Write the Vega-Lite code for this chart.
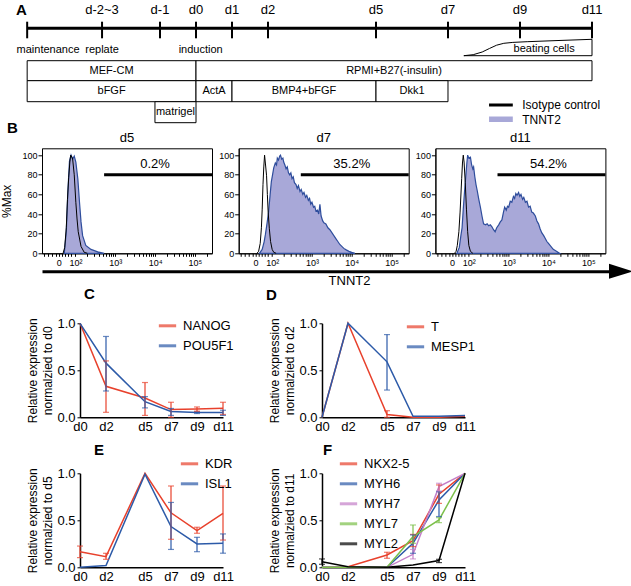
{
  "$schema": "https://vega.github.io/schema/vega-lite/v6.json",
  "padding": 0,
  "background": "white",
  "bounds": "flush",
  "spacing": 23.3,
  "config": {
    "font": "Liberation Sans",
    "view": {"stroke": null},
    "axis": {"grid": false, "domainColor": "#000", "tickColor": "#000", "labelColor": "#000", "titleColor": "#000", "titleFontWeight": "normal", "labelFont": "Liberation Sans", "titleFont": "Liberation Sans", "labelOverlap": false},
    "legend": {"labelFont": "Liberation Sans", "labelColor": "#000"},
    "title": {"color": "#000", "font": "Liberation Sans"},
    "text": {"font": "Liberation Sans", "color": "#000"}
  },
  "datasets": {
    "a_ticks": [
      {"day": -4.69, "label": ""}, {"day": -2.61, "label": "d-2~3"}, {"day": -1, "label": "d-1"},
      {"day": 0, "label": "d0"}, {"day": 1, "label": "d1"}, {"day": 2, "label": "d2"},
      {"day": 5, "label": "d5"}, {"day": 7, "label": "d7"}, {"day": 9, "label": "d9"}, {"day": 11, "label": "d11"}
    ],
    "a_boxes": [
      {"start": -4.69, "end": 0, "top": 6.07, "bottom": 8.07},
      {"start": 0, "end": 11, "top": 6.07, "bottom": 8.07},
      {"start": -4.69, "end": 0, "top": 8.07, "bottom": 10.17},
      {"start": 0, "end": 1, "top": 8.07, "bottom": 10.17},
      {"start": 1, "end": 5, "top": 8.07, "bottom": 10.17},
      {"start": 5, "end": 7, "top": 8.07, "bottom": 10.17},
      {"start": -1.14, "end": 0, "top": 10.17, "bottom": 12.27}
    ],
    "a_text": [
      {"day": -4.11, "lane": 5.0, "label": "maintenance"},
      {"day": -2.61, "lane": 5.0, "label": "replate"},
      {"day": 0.13, "lane": 5.0, "label": "induction"},
      {"day": 9.67, "lane": 4.93, "label": "beating cells"},
      {"day": -2.345, "lane": 7.07, "label": "MEF-CM"},
      {"day": 5.5, "lane": 7.07, "label": "RPMI+B27(-insulin)"},
      {"day": -2.345, "lane": 9.12, "label": "bFGF"},
      {"day": 0.5, "lane": 9.12, "label": "ActA"},
      {"day": 3.0, "lane": 9.12, "label": "BMP4+bFGF"},
      {"day": 6.0, "lane": 9.12, "label": "Dkk1"},
      {"day": -0.57, "lane": 11.22, "label": "matrigel"}
    ],
    "a_beat": [
      {"i": 0, "day": 7.44, "lane": 5.57}, {"i": 1, "day": 7.7, "lane": 5.47}, {"i": 2, "day": 7.95, "lane": 5.2},
      {"i": 3, "day": 8.15, "lane": 4.85}, {"i": 4, "day": 8.35, "lane": 4.52}, {"i": 5, "day": 8.55, "lane": 4.33},
      {"i": 6, "day": 8.8, "lane": 4.24}, {"i": 7, "day": 9.2, "lane": 4.17}, {"i": 8, "day": 10, "lane": 4.06},
      {"i": 9, "day": 11, "lane": 3.93}, {"i": 10, "day": 11, "lane": 5.57}, {"i": 11, "day": 7.44, "lane": 5.57}
    ],
    "h5_t": [
      {"u": 1.72, "v": 0}, {"u": 1.77, "v": 22}, {"u": 1.81, "v": 63}, {"u": 1.85, "v": 94}, {"u": 1.89, "v": 100},
      {"u": 1.93, "v": 96}, {"u": 1.97, "v": 99}, {"u": 2.01, "v": 93}, {"u": 2.06, "v": 76}, {"u": 2.1, "v": 53},
      {"u": 2.14, "v": 32}, {"u": 2.18, "v": 18}, {"u": 2.26, "v": 8}, {"u": 2.39, "v": 4}, {"u": 2.56, "v": 1.5}, {"u": 2.72, "v": 0}
    ],
    "h5_i": [
      {"u": 1.69, "v": 0}, {"u": 1.73, "v": 6}, {"u": 1.77, "v": 26}, {"u": 1.8, "v": 55}, {"u": 1.83, "v": 77},
      {"u": 1.86, "v": 93}, {"u": 1.88, "v": 100}, {"u": 1.91, "v": 98}, {"u": 1.93, "v": 96}, {"u": 1.97, "v": 80},
      {"u": 2.01, "v": 52}, {"u": 2.04, "v": 35}, {"u": 2.07, "v": 22}, {"u": 2.14, "v": 7}, {"u": 2.22, "v": 1}, {"u": 2.3, "v": 0}
    ],
    "h7_t": [
      {"u": 1.68, "v": 0}, {"u": 1.75, "v": 4}, {"u": 1.8, "v": 12}, {"u": 1.83, "v": 19}, {"u": 1.87, "v": 30},
      {"u": 1.91, "v": 42}, {"u": 1.95, "v": 60}, {"u": 1.98, "v": 73}, {"u": 2.01, "v": 80}, {"u": 2.04, "v": 87},
      {"u": 2.08, "v": 92}, {"u": 2.11, "v": 90}, {"u": 2.13, "v": 97}, {"u": 2.16, "v": 95}, {"u": 2.19, "v": 99},
      {"u": 2.21, "v": 100}, {"u": 2.24, "v": 96}, {"u": 2.27, "v": 97}, {"u": 2.29, "v": 93}, {"u": 2.32, "v": 90},
      {"u": 2.35, "v": 86}, {"u": 2.38, "v": 88}, {"u": 2.41, "v": 82}, {"u": 2.44, "v": 80}, {"u": 2.47, "v": 82},
      {"u": 2.5, "v": 76}, {"u": 2.53, "v": 78}, {"u": 2.56, "v": 72}, {"u": 2.6, "v": 70}, {"u": 2.63, "v": 66},
      {"u": 2.66, "v": 69}, {"u": 2.7, "v": 63}, {"u": 2.73, "v": 65}, {"u": 2.77, "v": 60}, {"u": 2.8, "v": 62},
      {"u": 2.84, "v": 57}, {"u": 2.87, "v": 59}, {"u": 2.91, "v": 54}, {"u": 2.94, "v": 56}, {"u": 2.97, "v": 50},
      {"u": 3.0, "v": 52}, {"u": 3.04, "v": 47}, {"u": 3.07, "v": 48}, {"u": 3.1, "v": 43}, {"u": 3.14, "v": 44},
      {"u": 3.17, "v": 40}, {"u": 3.2, "v": 50}, {"u": 3.23, "v": 38}, {"u": 3.27, "v": 33}, {"u": 3.3, "v": 31},
      {"u": 3.35, "v": 30}, {"u": 3.4, "v": 26}, {"u": 3.45, "v": 24}, {"u": 3.5, "v": 21}, {"u": 3.55, "v": 18},
      {"u": 3.6, "v": 15}, {"u": 3.65, "v": 12}, {"u": 3.7, "v": 9}, {"u": 3.75, "v": 7}, {"u": 3.8, "v": 5},
      {"u": 3.86, "v": 3.5}, {"u": 3.93, "v": 2}, {"u": 4.0, "v": 1}, {"u": 4.08, "v": 0}
    ],
    "h7_i": [
      {"u": 1.62, "v": 0}, {"u": 1.66, "v": 2}, {"u": 1.7, "v": 10}, {"u": 1.73, "v": 26}, {"u": 1.75, "v": 45},
      {"u": 1.77, "v": 70}, {"u": 1.79, "v": 88}, {"u": 1.81, "v": 100}, {"u": 1.83, "v": 92}, {"u": 1.86, "v": 79},
      {"u": 1.88, "v": 60}, {"u": 1.9, "v": 42}, {"u": 1.93, "v": 25}, {"u": 1.96, "v": 12}, {"u": 2.0, "v": 4},
      {"u": 2.04, "v": 1}, {"u": 2.1, "v": 0}
    ],
    "h11_t": [
      {"u": 1.7, "v": 0}, {"u": 1.76, "v": 6}, {"u": 1.8, "v": 18}, {"u": 1.83, "v": 26}, {"u": 1.86, "v": 45},
      {"u": 1.89, "v": 62}, {"u": 1.92, "v": 77}, {"u": 1.95, "v": 92}, {"u": 1.97, "v": 100}, {"u": 2.0, "v": 97},
      {"u": 2.04, "v": 98}, {"u": 2.07, "v": 90}, {"u": 2.1, "v": 86}, {"u": 2.12, "v": 88}, {"u": 2.15, "v": 78},
      {"u": 2.18, "v": 70}, {"u": 2.21, "v": 64}, {"u": 2.25, "v": 55}, {"u": 2.29, "v": 47}, {"u": 2.33, "v": 38},
      {"u": 2.37, "v": 30}, {"u": 2.42, "v": 29}, {"u": 2.46, "v": 30}, {"u": 2.5, "v": 28}, {"u": 2.54, "v": 29},
      {"u": 2.58, "v": 27}, {"u": 2.62, "v": 24}, {"u": 2.66, "v": 22}, {"u": 2.7, "v": 26}, {"u": 2.75, "v": 29},
      {"u": 2.79, "v": 32}, {"u": 2.83, "v": 34}, {"u": 2.87, "v": 42}, {"u": 2.9, "v": 47}, {"u": 2.94, "v": 44},
      {"u": 2.97, "v": 48}, {"u": 3.0, "v": 47}, {"u": 3.04, "v": 53}, {"u": 3.08, "v": 52}, {"u": 3.12, "v": 58},
      {"u": 3.15, "v": 56}, {"u": 3.18, "v": 61}, {"u": 3.21, "v": 59}, {"u": 3.25, "v": 62}, {"u": 3.28, "v": 58},
      {"u": 3.31, "v": 60}, {"u": 3.35, "v": 55}, {"u": 3.38, "v": 57}, {"u": 3.42, "v": 52}, {"u": 3.46, "v": 53},
      {"u": 3.5, "v": 47}, {"u": 3.54, "v": 48}, {"u": 3.58, "v": 42}, {"u": 3.62, "v": 41}, {"u": 3.67, "v": 38},
      {"u": 3.71, "v": 33}, {"u": 3.75, "v": 30}, {"u": 3.79, "v": 25}, {"u": 3.83, "v": 21}, {"u": 3.88, "v": 18},
      {"u": 3.92, "v": 15}, {"u": 3.96, "v": 12}, {"u": 4.0, "v": 10}, {"u": 4.06, "v": 7}, {"u": 4.12, "v": 4},
      {"u": 4.2, "v": 2}, {"u": 4.28, "v": 0}
    ],
    "h11_i": [
      {"u": 1.64, "v": 0}, {"u": 1.68, "v": 2}, {"u": 1.71, "v": 8}, {"u": 1.75, "v": 22}, {"u": 1.78, "v": 42},
      {"u": 1.82, "v": 76}, {"u": 1.84, "v": 92}, {"u": 1.86, "v": 100}, {"u": 1.88, "v": 93}, {"u": 1.91, "v": 72},
      {"u": 1.94, "v": 45}, {"u": 1.97, "v": 22}, {"u": 2.0, "v": 8}, {"u": 2.04, "v": 2}, {"u": 2.1, "v": 0}
    ],
    "c_lines": [
      {"gene": "NANOG", "day": 0, "value": 1.0}, {"gene": "NANOG", "day": 2, "value": 0.33}, {"gene": "NANOG", "day": 5, "value": 0.205},
      {"gene": "NANOG", "day": 7, "value": 0.082}, {"gene": "NANOG", "day": 9, "value": 0.088}, {"gene": "NANOG", "day": 11, "value": 0.095},
      {"gene": "POU5F1", "day": 0, "value": 1.0}, {"gene": "POU5F1", "day": 2, "value": 0.576}, {"gene": "POU5F1", "day": 5, "value": 0.166},
      {"gene": "POU5F1", "day": 7, "value": 0.062}, {"gene": "POU5F1", "day": 9, "value": 0.052}, {"gene": "POU5F1", "day": 11, "value": 0.052}
    ],
    "c_err": [
      {"gene": "NANOG", "day": 2, "lo": 0.053, "hi": 0.6}, {"gene": "NANOG", "day": 5, "lo": 0.02, "hi": 0.37},
      {"gene": "NANOG", "day": 7, "lo": 0.0, "hi": 0.16}, {"gene": "NANOG", "day": 9, "lo": 0.065, "hi": 0.11},
      {"gene": "NANOG", "day": 11, "lo": 0.03, "hi": 0.16},
      {"gene": "POU5F1", "day": 2, "lo": 0.28, "hi": 0.86}, {"gene": "POU5F1", "day": 5, "lo": 0.1, "hi": 0.22},
      {"gene": "POU5F1", "day": 7, "lo": 0.02, "hi": 0.094}, {"gene": "POU5F1", "day": 9, "lo": 0.04, "hi": 0.06},
      {"gene": "POU5F1", "day": 11, "lo": 0.02, "hi": 0.075}
    ],
    "d_lines": [
      {"gene": "T", "day": 0, "value": 0}, {"gene": "T", "day": 2, "value": 1}, {"gene": "T", "day": 5, "value": 0.03},
      {"gene": "T", "day": 7, "value": 0.0}, {"gene": "T", "day": 9, "value": 0.0}, {"gene": "T", "day": 11, "value": 0.01},
      {"gene": "MESP1", "day": 0, "value": 0}, {"gene": "MESP1", "day": 2, "value": 1}, {"gene": "MESP1", "day": 5, "value": 0.59},
      {"gene": "MESP1", "day": 7, "value": 0.01}, {"gene": "MESP1", "day": 9, "value": 0.01}, {"gene": "MESP1", "day": 11, "value": 0.02}
    ],
    "d_err": [
      {"gene": "T", "day": 5, "lo": 0.0, "hi": 0.07},
      {"gene": "MESP1", "day": 5, "lo": 0.29, "hi": 0.88}
    ],
    "e_lines": [
      {"gene": "KDR", "day": 0, "value": 0.166}, {"gene": "KDR", "day": 2, "value": 0.113}, {"gene": "KDR", "day": 5, "value": 1.0},
      {"gene": "KDR", "day": 7, "value": 0.58}, {"gene": "KDR", "day": 9, "value": 0.39}, {"gene": "KDR", "day": 11, "value": 0.574},
      {"gene": "ISL1", "day": 0, "value": 0.0}, {"gene": "ISL1", "day": 2, "value": 0.018}, {"gene": "ISL1", "day": 5, "value": 0.99},
      {"gene": "ISL1", "day": 7, "value": 0.433}, {"gene": "ISL1", "day": 9, "value": 0.248}, {"gene": "ISL1", "day": 11, "value": 0.255}
    ],
    "e_err": [
      {"gene": "KDR", "day": 0, "lo": 0.103, "hi": 0.226}, {"gene": "KDR", "day": 2, "lo": 0.085, "hi": 0.149},
      {"gene": "KDR", "day": 7, "lo": 0.298, "hi": 0.865}, {"gene": "KDR", "day": 9, "lo": 0.362, "hi": 0.426},
      {"gene": "KDR", "day": 11, "lo": 0.29, "hi": 0.865},
      {"gene": "ISL1", "day": 7, "lo": 0.19, "hi": 0.69}, {"gene": "ISL1", "day": 9, "lo": 0.166, "hi": 0.319},
      {"gene": "ISL1", "day": 11, "lo": 0.15, "hi": 0.355}
    ],
    "f_lines": [
      {"gene": "NKX2-5", "day": 0, "value": 0}, {"gene": "NKX2-5", "day": 2, "value": 0.007}, {"gene": "NKX2-5", "day": 5, "value": 0.131},
      {"gene": "NKX2-5", "day": 7, "value": 0.284}, {"gene": "NKX2-5", "day": 9, "value": 0.777}, {"gene": "NKX2-5", "day": 11, "value": 1},
      {"gene": "MYH6", "day": 0, "value": 0}, {"gene": "MYH6", "day": 2, "value": 0}, {"gene": "MYH6", "day": 5, "value": 0},
      {"gene": "MYH6", "day": 7, "value": 0.255}, {"gene": "MYH6", "day": 9, "value": 0.716}, {"gene": "MYH6", "day": 11, "value": 1},
      {"gene": "MYH7", "day": 0, "value": 0}, {"gene": "MYH7", "day": 2, "value": 0}, {"gene": "MYH7", "day": 5, "value": 0},
      {"gene": "MYH7", "day": 7, "value": 0.138}, {"gene": "MYH7", "day": 9, "value": 0.858}, {"gene": "MYH7", "day": 11, "value": 1},
      {"gene": "MYL7", "day": 0, "value": 0}, {"gene": "MYL7", "day": 2, "value": 0}, {"gene": "MYL7", "day": 5, "value": 0},
      {"gene": "MYL7", "day": 7, "value": 0.326}, {"gene": "MYL7", "day": 9, "value": 0.504}, {"gene": "MYL7", "day": 11, "value": 1},
      {"gene": "MYL2", "day": 0, "value": 0.06}, {"gene": "MYL2", "day": 2, "value": 0.007}, {"gene": "MYL2", "day": 5, "value": 0},
      {"gene": "MYL2", "day": 7, "value": 0.025}, {"gene": "MYL2", "day": 9, "value": 0.072}, {"gene": "MYL2", "day": 11, "value": 1}
    ],
    "f_err": [
      {"gene": "NKX2-5", "day": 5, "lo": 0.096, "hi": 0.16}, {"gene": "NKX2-5", "day": 7, "lo": 0.22, "hi": 0.35},
      {"gene": "NKX2-5", "day": 9, "lo": 0.68, "hi": 0.876},
      {"gene": "MYH6", "day": 7, "lo": 0.149, "hi": 0.344}, {"gene": "MYH6", "day": 9, "lo": 0.54, "hi": 0.805},
      {"gene": "MYH7", "day": 7, "lo": 0.089, "hi": 0.19}, {"gene": "MYH7", "day": 9, "lo": 0.812, "hi": 0.894},
      {"gene": "MYL7", "day": 7, "lo": 0.255, "hi": 0.45}, {"gene": "MYL7", "day": 9, "lo": 0.475, "hi": 0.528},
      {"gene": "MYL2", "day": 0, "lo": 0.032, "hi": 0.089}, {"gene": "MYL2", "day": 9, "lo": 0.05, "hi": 0.085}
    ]
  },
  "resolve": {"scale": {"color": "independent"}, "legend": {"color": "independent"}},
  "vconcat": [
    {
      "width": 591,
      "height": 125,
      "layer": [
        {
          "data": {"values": [{"start": -4.69, "end": 11}]},
          "mark": {"type": "rule", "strokeWidth": 3, "color": "#000"},
          "encoding": {
            "x": {"field": "start", "type": "quantitative", "scale": {"domain": [-4.2778, 12.1389], "nice": false, "zero": false}, "axis": null},
            "x2": {"field": "end"},
            "y": {"datum": 2.83, "type": "quantitative", "scale": {"domain": [0, 12.5], "reverse": true, "nice": false, "zero": false}, "axis": null}
          }
        },
        {
          "data": {"name": "a_ticks"},
          "mark": {"type": "rule", "strokeWidth": 2, "color": "#000"},
          "encoding": {
            "x": {"field": "day", "type": "quantitative"},
            "y": {"datum": 2.17, "type": "quantitative"},
            "y2": {"datum": 3.83}
          }
        },
        {
          "data": {"name": "a_ticks"},
          "mark": {"type": "text", "fontSize": 13, "baseline": "middle"},
          "encoding": {
            "x": {"field": "day", "type": "quantitative"},
            "y": {"datum": 1.0, "type": "quantitative"},
            "text": {"field": "label"}
          }
        },
        {
          "data": {"name": "a_boxes"},
          "mark": {"type": "rect", "fill": "white", "stroke": "#000", "strokeWidth": 1},
          "encoding": {
            "x": {"field": "start", "type": "quantitative"},
            "x2": {"field": "end"},
            "y": {"field": "top", "type": "quantitative"},
            "y2": {"field": "bottom"}
          }
        },
        {
          "data": {"name": "a_text"},
          "mark": {"type": "text", "fontSize": 11, "baseline": "middle"},
          "encoding": {
            "x": {"field": "day", "type": "quantitative"},
            "y": {"field": "lane", "type": "quantitative"},
            "text": {"field": "label"}
          }
        },
        {
          "data": {"name": "a_beat"},
          "mark": {"type": "line", "color": "#000", "strokeWidth": 1},
          "encoding": {
            "x": {"field": "day", "type": "quantitative"},
            "y": {"field": "lane", "type": "quantitative"},
            "order": {"field": "i", "type": "quantitative"}
          }
        },
        {
          "data": {"values": [{"start": 8.14, "end": 8.8}]},
          "mark": {"type": "rule", "strokeWidth": 3, "color": "#000"},
          "encoding": {
            "x": {"field": "start", "type": "quantitative"},
            "x2": {"field": "end"},
            "y": {"datum": 10.5, "type": "quantitative"}
          }
        },
        {
          "data": {"values": [{"start": 8.14, "end": 8.8}]},
          "mark": {"type": "rect", "fill": "#a8a8d8"},
          "encoding": {
            "x": {"field": "start", "type": "quantitative"},
            "x2": {"field": "end"},
            "y": {"datum": 11.65, "type": "quantitative"},
            "y2": {"datum": 12.2}
          }
        },
        {
          "data": {"values": [{"day": 9.06, "lane": 10.45, "label": "Isotype control"}, {"day": 9.06, "lane": 11.95, "label": "TNNT2"}]},
          "mark": {"type": "text", "fontSize": 12, "align": "left", "baseline": "middle"},
          "encoding": {
            "x": {"field": "day", "type": "quantitative"},
            "y": {"field": "lane", "type": "quantitative"},
            "text": {"field": "label"}
          }
        },
        {
          "data": {"values": [{"day": -4.85, "lane": 1.0, "label": "A"}]},
          "mark": {"type": "text", "fontSize": 15, "fontWeight": "bold", "baseline": "middle"},
          "encoding": {
            "x": {"field": "day", "type": "quantitative"},
            "y": {"field": "lane", "type": "quantitative"},
            "text": {"field": "label"}
          }
        }
      ]
    },
    {
      "bounds": "flush",
      "spacing": 175,
      "resolve": {"scale": {"color": "independent"}, "legend": {"color": "independent"}},
      "vconcat": [
        {
          "bounds": "flush",
          "spacing": 115,
          "vconcat": [
            {
              "bounds": "flush",
              "spacing": 26.7,
              "title": {"text": "B", "anchor": "start", "frame": "group", "dx": -35, "offset": -4.5, "fontSize": 15, "fontWeight": "bold"},
              "hconcat": [
                {
                  "width": 170, "height": 105,
                  "title": {"text": "d5", "fontSize": 13, "fontWeight": "normal", "offset": 3},
                  "view": {"stroke": "#000", "strokeWidth": 1},
                  "encoding": {
                    "x": {"field": "u", "type": "quantitative", "scale": {"domain": [1.16, 5.43], "nice": false, "zero": false},
                      "axis": {"values": [1.2,1.3,1.4,1.5,1.58,1.66,1.74,1.82,1.9,2,2.301,2.477,2.602,2.699,2.778,2.845,2.903,2.954,3,3.301,3.477,3.602,3.699,3.778,3.845,3.903,3.954,4,4.301,4.477,4.602,4.699,4.778,4.845,4.903,4.954,5,5.301],
                        "labelExpr": "datum.value == 1.58 ? '0' : datum.value == 2 ? '10²' : datum.value == 3 ? '10³' : datum.value == 4 ? '10⁴' : datum.value == 5 ? '10⁵' : ''",
                        "title": null, "tickSize": 3, "labelPadding": 2, "labelFontSize": 9, "labelFlush": false, "labelOverlap": false}},
                    "y": {"field": "v", "type": "quantitative", "scale": {"domain": [0, 107], "nice": false},
                      "axis": {"values": [0, 20, 40, 60, 80, 100], "title": "%Max", "titleFontSize": 12, "titlePadding": 8, "labelFontSize": 9, "tickSize": 4, "labelPadding": 1}}
                  },
                  "layer": [
                    {"data": {"name": "h5_t"}, "mark": {"type": "area", "fill": "#a8a8d8", "stroke": "#2e4d9c", "strokeWidth": 1.2, "fillOpacity": 1}},
                    {"data": {"name": "h5_i"}, "mark": {"type": "line", "color": "#000", "strokeWidth": 1}},
                    {"data": {"values": [{"u": 2.72, "u2": 5.43, "v": 80}]}, "mark": {"type": "rule", "strokeWidth": 3, "color": "#000"}, "encoding": {"x2": {"field": "u2"}}},
                    {"data": {"values": [{"u": 4.0, "v": 91, "label": "0.2%"}]}, "mark": {"type": "text", "fontSize": 13, "baseline": "middle"}, "encoding": {"text": {"field": "label"}}}
                  ]
                },
                {
                  "width": 170, "height": 105,
                  "title": {"text": "d7", "fontSize": 13, "fontWeight": "normal", "offset": 3},
                  "view": {"stroke": "#000", "strokeWidth": 1},
                  "encoding": {
                    "x": {"field": "u", "type": "quantitative", "scale": {"domain": [1.16, 5.43], "nice": false, "zero": false},
                      "axis": {"values": [1.2,1.3,1.4,1.5,1.58,1.66,1.74,1.82,1.9,2,2.301,2.477,2.602,2.699,2.778,2.845,2.903,2.954,3,3.301,3.477,3.602,3.699,3.778,3.845,3.903,3.954,4,4.301,4.477,4.602,4.699,4.778,4.845,4.903,4.954,5,5.301],
                        "labelExpr": "datum.value == 1.58 ? '0' : datum.value == 2 ? '10²' : datum.value == 3 ? '10³' : datum.value == 4 ? '10⁴' : datum.value == 5 ? '10⁵' : ''",
                        "title": null, "tickSize": 3, "labelPadding": 2, "labelFontSize": 9, "labelFlush": false, "labelOverlap": false}},
                    "y": {"field": "v", "type": "quantitative", "scale": {"domain": [0, 107], "nice": false},
                      "axis": {"values": [0, 20, 40, 60, 80, 100], "title": null, "labelFontSize": 9, "tickSize": 4, "labelPadding": 1}}
                  },
                  "layer": [
                    {"data": {"name": "h7_t"}, "mark": {"type": "area", "fill": "#a8a8d8", "stroke": "#2e4d9c", "strokeWidth": 1.2, "fillOpacity": 1}},
                    {"data": {"name": "h7_i"}, "mark": {"type": "line", "color": "#000", "strokeWidth": 1}},
                    {"data": {"values": [{"u": 2.72, "u2": 5.43, "v": 80}]}, "mark": {"type": "rule", "strokeWidth": 3, "color": "#000"}, "encoding": {"x2": {"field": "u2"}}},
                    {"data": {"values": [{"u": 4.0, "v": 91, "label": "35.2%"}]}, "mark": {"type": "text", "fontSize": 13, "baseline": "middle"}, "encoding": {"text": {"field": "label"}}}
                  ]
                },
                {
                  "width": 170, "height": 105,
                  "title": {"text": "d11", "fontSize": 13, "fontWeight": "normal", "offset": 3},
                  "view": {"stroke": "#000", "strokeWidth": 1},
                  "encoding": {
                    "x": {"field": "u", "type": "quantitative", "scale": {"domain": [1.16, 5.43], "nice": false, "zero": false},
                      "axis": {"values": [1.2,1.3,1.4,1.5,1.58,1.66,1.74,1.82,1.9,2,2.301,2.477,2.602,2.699,2.778,2.845,2.903,2.954,3,3.301,3.477,3.602,3.699,3.778,3.845,3.903,3.954,4,4.301,4.477,4.602,4.699,4.778,4.845,4.903,4.954,5,5.301],
                        "labelExpr": "datum.value == 1.58 ? '0' : datum.value == 2 ? '10²' : datum.value == 3 ? '10³' : datum.value == 4 ? '10⁴' : datum.value == 5 ? '10⁵' : ''",
                        "title": null, "tickSize": 3, "labelPadding": 2, "labelFontSize": 9, "labelFlush": false, "labelOverlap": false}},
                    "y": {"field": "v", "type": "quantitative", "scale": {"domain": [0, 107], "nice": false},
                      "axis": {"values": [0, 20, 40, 60, 80, 100], "title": null, "labelFontSize": 9, "tickSize": 4, "labelPadding": 1}}
                  },
                  "layer": [
                    {"data": {"name": "h11_t"}, "mark": {"type": "area", "fill": "#a8a8d8", "stroke": "#2e4d9c", "strokeWidth": 1.2, "fillOpacity": 1}},
                    {"data": {"name": "h11_i"}, "mark": {"type": "line", "color": "#000", "strokeWidth": 1}},
                    {"data": {"values": [{"u": 2.72, "u2": 5.43, "v": 80}]}, "mark": {"type": "rule", "strokeWidth": 3, "color": "#000"}, "encoding": {"x2": {"field": "u2"}}},
                    {"data": {"values": [{"u": 4.0, "v": 91, "label": "54.2%"}]}, "mark": {"type": "text", "fontSize": 13, "baseline": "middle"}, "encoding": {"text": {"field": "label"}}}
                  ]
                }
              ]
            },
            {
              "width": 567,
              "height": 8,
              "data": {"values": [{"end": 1.0212}]},
              "mark": {"type": "point", "shape": "M-1,-0.62L1,0L-1,0.62Z", "size": 576, "filled": true, "color": "#000", "opacity": 1},
              "encoding": {
                "x": {"field": "end", "type": "quantitative", "scale": {"domain": [0, 1], "nice": false, "zero": false},
                  "axis": {"values": [], "ticks": false, "labels": false, "domainWidth": 3, "domainColor": "#000", "title": "TNNT2", "titleFontSize": 13, "titlePadding": 3, "titleX": 307, "titleAlign": "center"}},
                "y": {"datum": 0, "type": "quantitative", "scale": {"domain": [0, 1]}, "axis": null}
              }
            }
          ]
        },
        {
          "bounds": "flush",
          "spacing": 0,
          "resolve": {"scale": {"color": "independent"}, "legend": {"color": "independent"}},
          "hconcat": [
            {"width": 38, "height": 10, "data": {"values": []}, "mark": "point", "encoding": {}},
            {
              "bounds": "flush",
              "spacing": 150,
              "resolve": {"scale": {"color": "independent"}, "legend": {"color": "independent"}},
              "vconcat": [
                {
                  "bounds": "flush",
                  "spacing": 99,
                  "resolve": {"scale": {"color": "independent"}, "legend": {"color": "independent"}},
                  "hconcat": [
                    {
                      "width": 143, "height": 94,
                      "title": {"text": "C", "anchor": "start", "frame": "group", "dx": 4, "offset": 13.5, "fontSize": 15, "fontWeight": "bold"},
                      "encoding": {
                        "x": {"field": "day", "type": "quantitative", "scale": {"domain": [0, 11], "nice": false, "zero": false},
                          "axis": {"values": [0, 2, 5, 7, 9, 11], "labelExpr": "'d' + datum.value", "title": null, "tickSize": 0, "labelPadding": 3, "labelFontSize": 13, "domainWidth": 1.5, "labelFlush": false, "labelOverlap": false}},
                        "color": {"field": "gene", "type": "nominal", "scale": {"domain": ["NANOG", "POU5F1"], "range": ["#e8412c", "#2c5aa8"]},
                          "legend": {"orient": "none", "legendX": 77, "legendY": -8, "title": null, "symbolType": "stroke", "symbolStrokeWidth": 3, "symbolSize": 300, "labelFontSize": 13, "rowPadding": 2, "padding": 0, "labelOffset": 5}}
                      },
                      "layer": [
                        {
                          "data": {"name": "c_lines"},
                          "mark": {"type": "line", "strokeWidth": 1.5},
                          "encoding": {
                            "y": {"field": "value", "type": "quantitative", "scale": {"domain": [0, 1], "nice": false},
                              "axis": {"values": [0, 0.5, 1], "format": ".1f", "tickSize": 3, "labelPadding": 2, "labelFontSize": 13, "title": ["Relative expression", "normalzied to d0"], "titleFontSize": 12, "titlePadding": 2, "titleLineHeight": 15, "domainWidth": 1.5}}
                          }
                        },
                        {"data": {"name": "c_err"}, "mark": {"type": "rule", "strokeWidth": 1.2}, "encoding": {"y": {"field": "lo", "type": "quantitative"}, "y2": {"field": "hi"}}},
                        {"data": {"name": "c_err"}, "mark": {"type": "tick", "orient": "horizontal", "size": 6, "thickness": 1.2}, "encoding": {"y": {"field": "hi", "type": "quantitative"}}},
                        {"data": {"name": "c_err"}, "mark": {"type": "tick", "orient": "horizontal", "size": 6, "thickness": 1.2}, "encoding": {"y": {"field": "lo", "type": "quantitative"}}}
                      ]
                    },
                    {
                      "width": 143, "height": 94,
                      "title": {"text": "D", "anchor": "start", "frame": "group", "dx": -56, "offset": 13.5, "fontSize": 15, "fontWeight": "bold"},
                      "encoding": {
                        "x": {"field": "day", "type": "quantitative", "scale": {"domain": [0, 11], "nice": false, "zero": false},
                          "axis": {"values": [0, 2, 5, 7, 9, 11], "labelExpr": "'d' + datum.value", "title": null, "tickSize": 0, "labelPadding": 3, "labelFontSize": 13, "domainWidth": 1.5, "labelFlush": false, "labelOverlap": false}},
                        "color": {"field": "gene", "type": "nominal", "scale": {"domain": ["T", "MESP1"], "range": ["#e8412c", "#2c5aa8"]},
                          "legend": {"orient": "none", "legendX": 83, "legendY": -7, "title": null, "symbolType": "stroke", "symbolStrokeWidth": 3, "symbolSize": 300, "labelFontSize": 13, "rowPadding": 2, "padding": 0, "labelOffset": 5}}
                      },
                      "layer": [
                        {
                          "data": {"name": "d_lines"},
                          "mark": {"type": "line", "strokeWidth": 1.5},
                          "encoding": {
                            "y": {"field": "value", "type": "quantitative", "scale": {"domain": [0, 1], "nice": false},
                              "axis": {"values": [0, 0.5, 1], "format": ".1f", "tickSize": 3, "labelPadding": 2, "labelFontSize": 13, "title": ["Relative expression", "normalzied to d2"], "titleFontSize": 12, "titlePadding": 2, "titleLineHeight": 15, "domainWidth": 1.5}}
                          }
                        },
                        {"data": {"name": "d_err"}, "mark": {"type": "rule", "strokeWidth": 1.2}, "encoding": {"y": {"field": "lo", "type": "quantitative"}, "y2": {"field": "hi"}}},
                        {"data": {"name": "d_err"}, "mark": {"type": "tick", "orient": "horizontal", "size": 6, "thickness": 1.2}, "encoding": {"y": {"field": "hi", "type": "quantitative"}}},
                        {"data": {"name": "d_err"}, "mark": {"type": "tick", "orient": "horizontal", "size": 6, "thickness": 1.2}, "encoding": {"y": {"field": "lo", "type": "quantitative"}}}
                      ]
                    }
                  ]
                },
                {
                  "bounds": "flush",
                  "spacing": 99,
                  "resolve": {"scale": {"color": "independent"}, "legend": {"color": "independent"}},
                  "hconcat": [
                    {
                      "width": 143, "height": 94,
                      "title": {"text": "E", "anchor": "start", "frame": "group", "dx": 14, "offset": -5, "fontSize": 15, "fontWeight": "bold"},
                      "encoding": {
                        "x": {"field": "day", "type": "quantitative", "scale": {"domain": [0, 11], "nice": false, "zero": false},
                          "axis": {"values": [0, 2, 5, 7, 9, 11], "labelExpr": "'d' + datum.value", "title": null, "tickSize": 0, "labelPadding": 3, "labelFontSize": 13, "domainWidth": 1.5, "labelFlush": false, "labelOverlap": false}},
                        "color": {"field": "gene", "type": "nominal", "scale": {"domain": ["KDR", "ISL1"], "range": ["#e8412c", "#2c5aa8"]},
                          "legend": {"orient": "none", "legendX": 99, "legendY": -20, "title": null, "symbolType": "stroke", "symbolStrokeWidth": 3, "symbolSize": 300, "labelFontSize": 13, "rowPadding": 2, "padding": 0, "labelOffset": 5}}
                      },
                      "layer": [
                        {
                          "data": {"name": "e_lines"},
                          "mark": {"type": "line", "strokeWidth": 1.5},
                          "encoding": {
                            "y": {"field": "value", "type": "quantitative", "scale": {"domain": [0, 1], "nice": false},
                              "axis": {"values": [0, 0.5, 1], "format": ".1f", "tickSize": 3, "labelPadding": 2, "labelFontSize": 13, "title": ["Relative expression", "normalzied to d5"], "titleFontSize": 12, "titlePadding": 2, "titleLineHeight": 15, "domainWidth": 1.5}}
                          }
                        },
                        {"data": {"name": "e_err"}, "mark": {"type": "rule", "strokeWidth": 1.2}, "encoding": {"y": {"field": "lo", "type": "quantitative"}, "y2": {"field": "hi"}}},
                        {"data": {"name": "e_err"}, "mark": {"type": "tick", "orient": "horizontal", "size": 6, "thickness": 1.2}, "encoding": {"y": {"field": "hi", "type": "quantitative"}}},
                        {"data": {"name": "e_err"}, "mark": {"type": "tick", "orient": "horizontal", "size": 6, "thickness": 1.2}, "encoding": {"y": {"field": "lo", "type": "quantitative"}}}
                      ]
                    },
                    {
                      "width": 143, "height": 94,
                      "title": {"text": "F", "anchor": "start", "frame": "group", "dx": 1, "offset": -5, "fontSize": 15, "fontWeight": "bold"},
                      "encoding": {
                        "x": {"field": "day", "type": "quantitative", "scale": {"domain": [0, 11], "nice": false, "zero": false},
                          "axis": {"values": [0, 2, 5, 7, 9, 11], "labelExpr": "'d' + datum.value", "title": null, "tickSize": 0, "labelPadding": 3, "labelFontSize": 13, "domainWidth": 1.5, "labelFlush": false, "labelOverlap": false}},
                        "color": {"field": "gene", "type": "nominal", "scale": {"domain": ["NKX2-5", "MYH6", "MYH7", "MYL7", "MYL2"], "range": ["#e8412c", "#2c5aa8", "#c47fc8", "#7cc04a", "#000000"]},
                          "legend": {"orient": "none", "legendX": 16, "legendY": -20, "title": null, "symbolType": "stroke", "symbolStrokeWidth": 3, "symbolSize": 300, "labelFontSize": 13, "rowPadding": 2, "padding": 0, "labelOffset": 5}}
                      },
                      "layer": [
                        {
                          "data": {"name": "f_lines"},
                          "mark": {"type": "line", "strokeWidth": 1.5},
                          "encoding": {
                            "y": {"field": "value", "type": "quantitative", "scale": {"domain": [0, 1], "nice": false},
                              "axis": {"values": [0, 0.5, 1], "format": ".1f", "tickSize": 3, "labelPadding": 2, "labelFontSize": 13, "title": ["Relative expression", "normalzied to d11"], "titleFontSize": 12, "titlePadding": 2, "titleLineHeight": 15, "domainWidth": 1.5}}
                          }
                        },
                        {"data": {"name": "f_err"}, "mark": {"type": "rule", "strokeWidth": 1.2}, "encoding": {"y": {"field": "lo", "type": "quantitative"}, "y2": {"field": "hi"}}},
                        {"data": {"name": "f_err"}, "mark": {"type": "tick", "orient": "horizontal", "size": 6, "thickness": 1.2}, "encoding": {"y": {"field": "hi", "type": "quantitative"}}},
                        {"data": {"name": "f_err"}, "mark": {"type": "tick", "orient": "horizontal", "size": 6, "thickness": 1.2}, "encoding": {"y": {"field": "lo", "type": "quantitative"}}}
                      ]
                    }
                  ]
                }
              ]
            }
          ]
        }
      ]
    }
  ]
}
